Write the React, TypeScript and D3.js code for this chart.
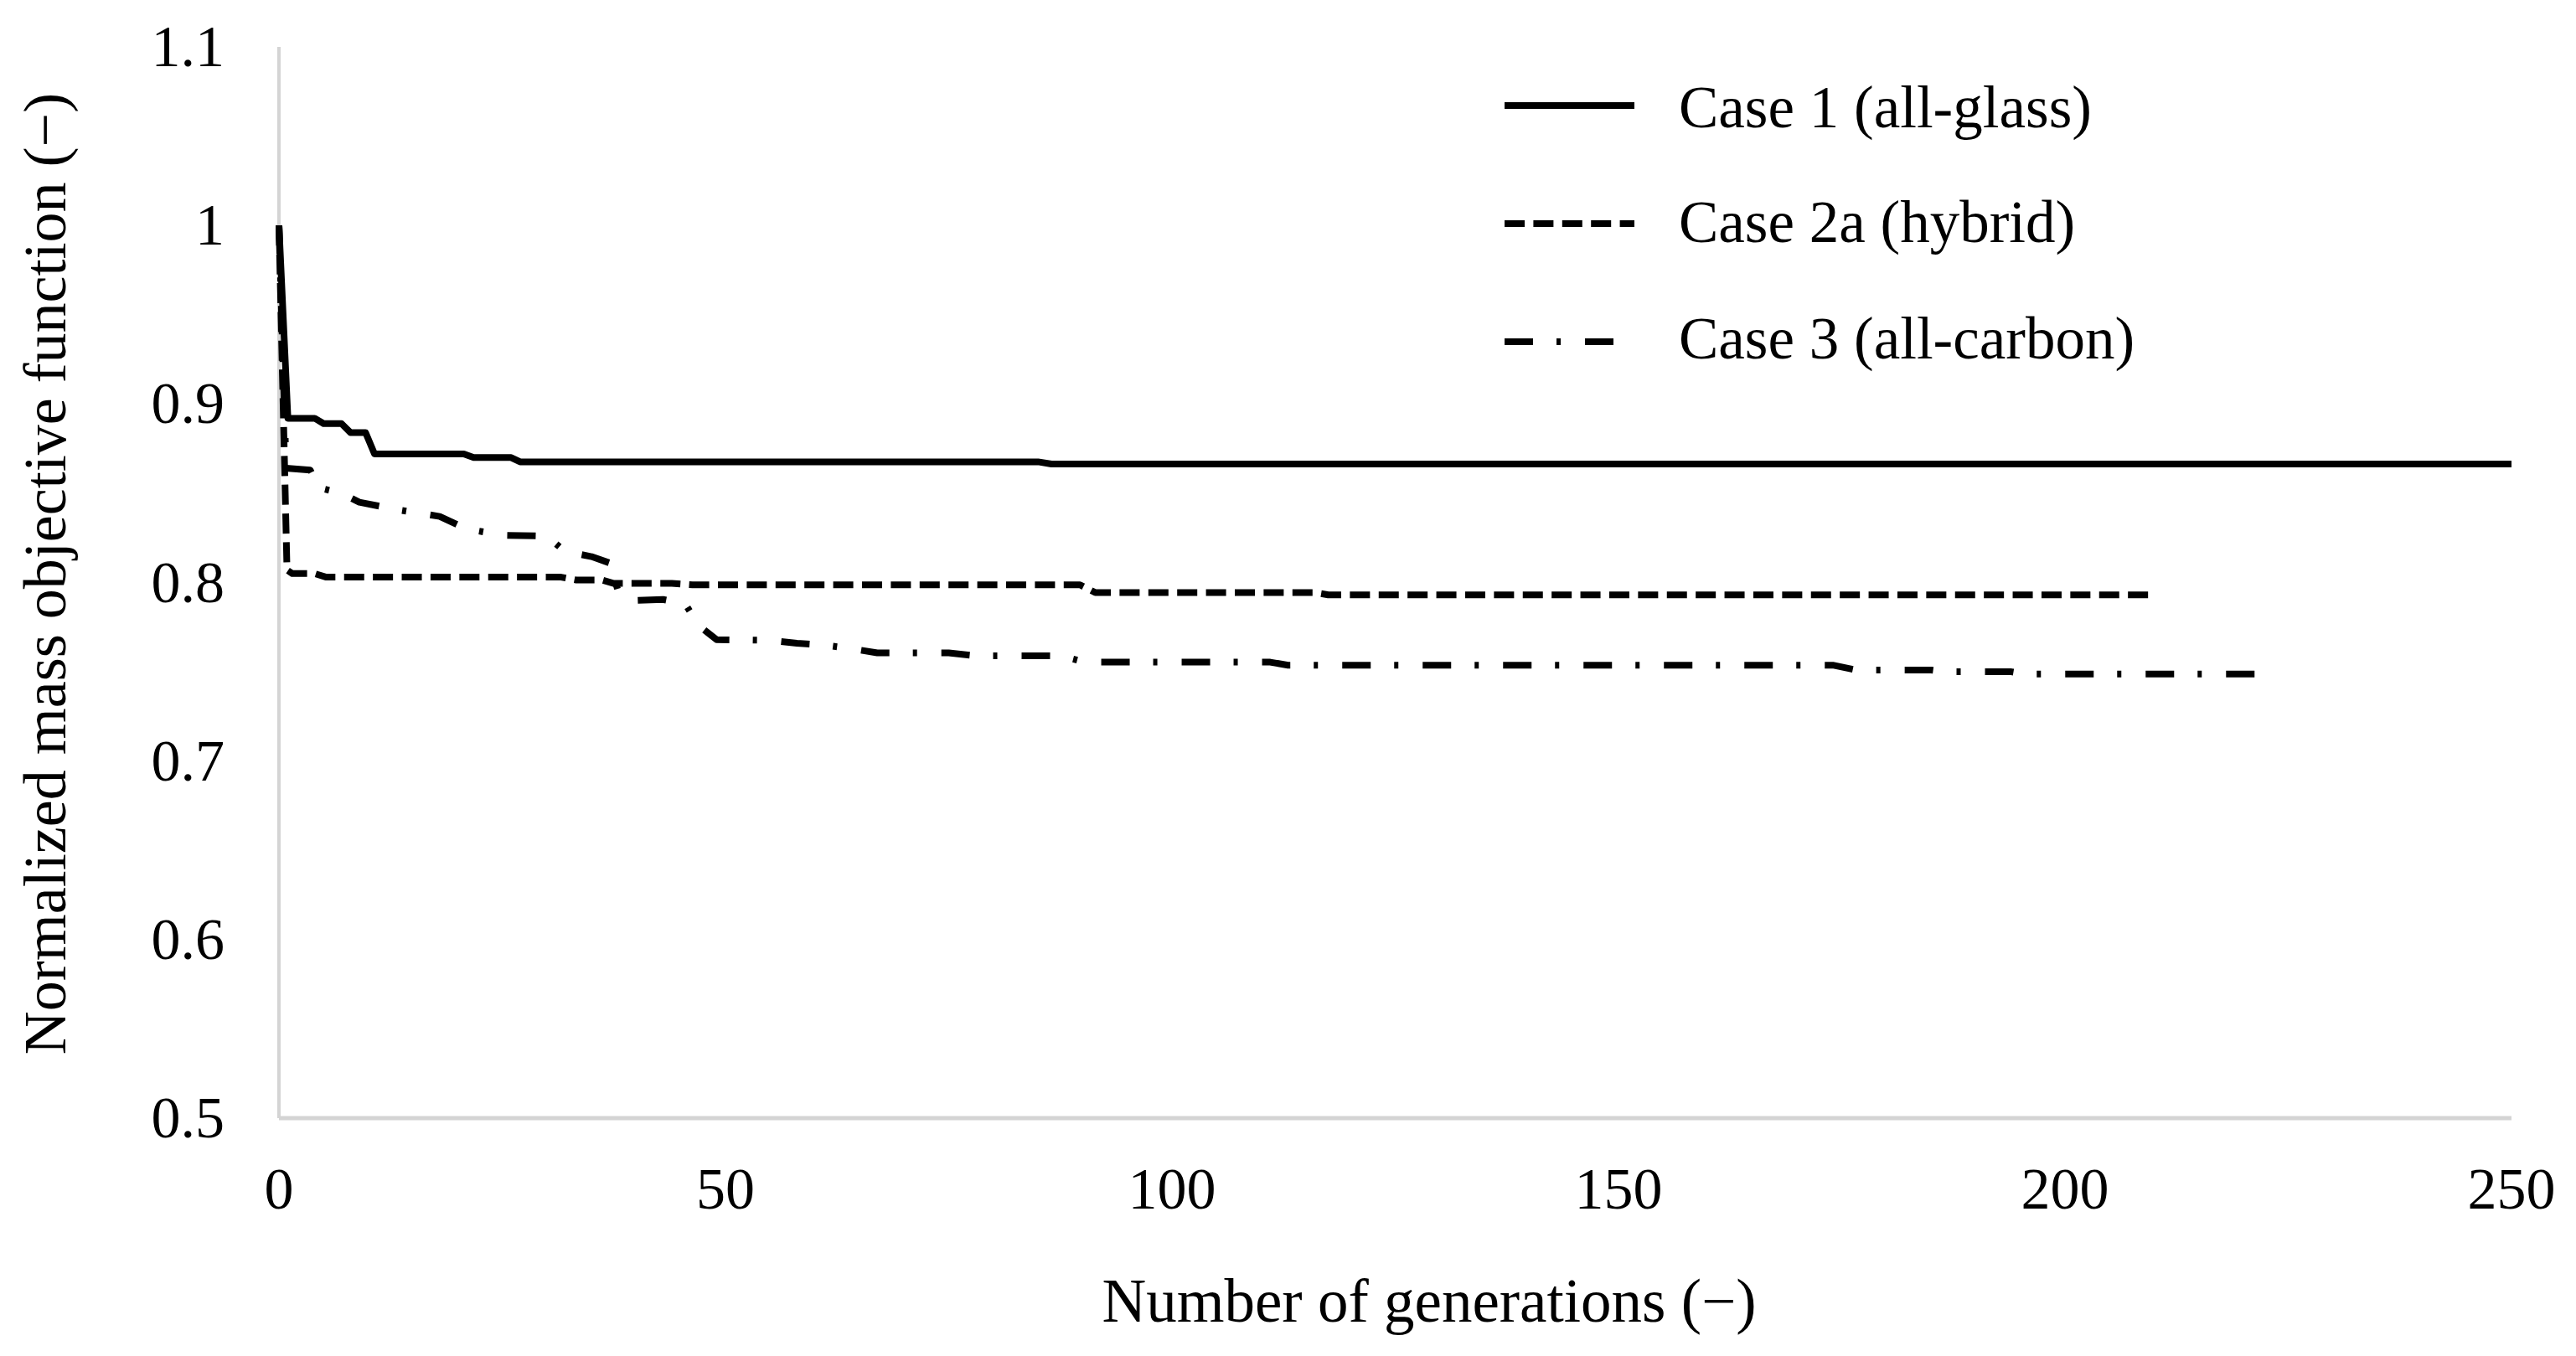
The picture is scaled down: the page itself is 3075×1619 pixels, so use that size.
import React from "react";
import * as d3 from "d3";

const W = 3075;
const H = 1619;

const xTicks = [0, 50, 100, 150, 200, 250];
const yTicks = [0.5, 0.6, 0.7, 0.8, 0.9, 1.0, 1.1];
const yTickLabels = ["0.5", "0.6", "0.7", "0.8", "0.9", "1", "1.1"];

const seriesNames = ["Case 1 (all-glass)", "Case 2a (hybrid)", "Case 3 (all-carbon)"];

const case1Gen = [0, 1, 4, 5, 7, 8, 9.7, 10.7, 20.7, 21.8, 26, 27, 85, 86.5, 250];
const case1Val = [1.0, 0.892, 0.892, 0.889, 0.889, 0.884, 0.884, 0.872, 0.872, 0.870, 0.870, 0.8676, 0.8676, 0.8664, 0.8664];

const case2Gen = [0, 0.9, 1.5, 4, 5.3, 31.6, 33.3, 36.2, 37.5, 44, 46.3, 89.7, 91.4, 116, 117.5, 210];
const case2Val = [1.0, 0.807, 0.805, 0.805, 0.803, 0.803, 0.8014, 0.8014, 0.7995, 0.7995, 0.7987, 0.7987, 0.7944, 0.7944, 0.7931, 0.7931];

const case3Gen = [0, 0.8, 3.5, 4.5, 7, 9, 13, 18, 21, 25, 30, 32, 35, 37, 38, 40, 43, 45.5, 47, 49, 55, 58, 61, 64, 67, 75, 78, 86, 87.6, 90.3, 111, 113, 174, 176.6, 185, 186.5, 194, 195.5, 223];
const case3Val = [1.0, 0.864, 0.863, 0.853, 0.85, 0.845, 0.841, 0.837, 0.83, 0.8265, 0.826, 0.8175, 0.8145, 0.811, 0.795, 0.79, 0.7905, 0.788, 0.776, 0.768, 0.7676, 0.766, 0.765, 0.763, 0.7606, 0.7606, 0.759, 0.759, 0.7589, 0.7554, 0.7554, 0.7537, 0.7537, 0.751, 0.751, 0.75, 0.75, 0.7487, 0.7487];

const FONT = "'Liberation Serif', 'Times New Roman', serif";

export default function App() {
  const x = d3.scaleLinear().domain([0, 250]).range([333, 2998]);
  const y = d3.scaleLinear().domain([0.5, 1.1]).range([1335, 56]);

  const line = d3
    .line<[number, number]>()
    .x((d) => x(d[0]))
    .y((d) => y(d[1]));

  const series = [
    { gen: case1Gen, val: case1Val, dash: undefined as string | undefined },
    { gen: case2Gen, val: case2Val, dash: "24 10.4" },
    { gen: case3Gen, val: case3Val, dash: "34 28 5 29" },
  ];

  const legendLineY = [126, 267, 408];
  const legendTextY = [152, 289, 428];

  return (
    <svg
      width={W}
      height={H}
      viewBox={`0 0 ${W} ${H}`}
      style={{ position: "absolute", left: 0, top: 0, background: "#fff" }}
      fontFamily={FONT}
    >
      <rect x={0} y={0} width={W} height={H} fill="#fff" />
      <line x1={x(0)} x2={x(0)} y1={y(1.1)} y2={y(0.5)} stroke="#d4d4d4" strokeWidth={4} />
      <line x1={x(0)} x2={x(250)} y1={y(0.5)} y2={y(0.5)} stroke="#d4d4d4" strokeWidth={5} />

      {yTicks.map((t, i) => (
        <text key={"yt" + i} x={268} y={y(t) + 23} fontSize={70} textAnchor="end" fill="#000">
          {yTickLabels[i]}
        </text>
      ))}
      {xTicks.map((t) => (
        <text key={"xt" + t} x={x(t)} y={1443} fontSize={70} textAnchor="middle" fill="#000">
          {t}
        </text>
      ))}

      <text x={1706} y={1578} fontSize={73} textAnchor="middle" fill="#000">
        Number of generations (−)
      </text>
      <text transform={`translate(78, 685) rotate(-90)`} fontSize={72} textAnchor="middle" fill="#000">
        Normalized mass objective function (−)
      </text>

      {series.map((s, i) => (
        <path
          key={"s" + i}
          d={line(s.gen.map((g, j) => [g, s.val[j]] as [number, number])) || ""}
          fill="none"
          stroke="#000"
          strokeWidth={8}
          strokeDasharray={s.dash}
          strokeLinejoin="round"
        />
      ))}

      {seriesNames.map((n, i) => (
        <g key={"lg" + i}>
          <line
            x1={1796}
            x2={1951}
            y1={legendLineY[i]}
            y2={legendLineY[i]}
            stroke="#000"
            strokeWidth={8}
            strokeDasharray={series[i].dash}
          />
          <text x={2004} y={legendTextY[i]} fontSize={71} fill="#000">
            {n}
          </text>
        </g>
      ))}
    </svg>
  );
}
